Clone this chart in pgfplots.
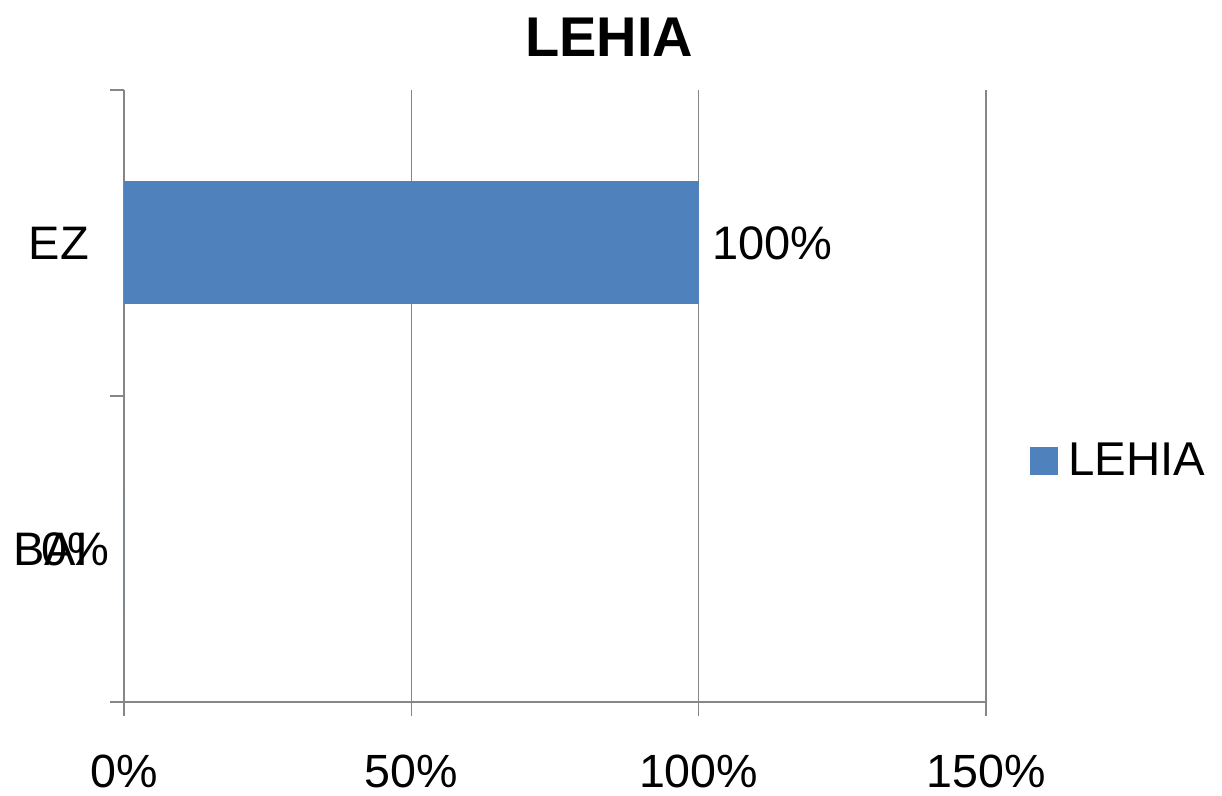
\documentclass[border=0pt]{standalone}
\usepackage{pgfplots}
\pgfplotsset{compat=1.18}
\usepackage{fontspec}
\setmainfont{Liberation Sans}
\definecolor{barblue}{HTML}{4F81BD}
\definecolor{gridgray}{RGB}{134,134,134}
\begin{document}
\begin{tikzpicture}
\begin{axis}[
  name=a,
  width=431pt, height=306pt, scale only axis,
  xmin=0, xmax=150, ymin=-0.5, ymax=1.5,
  xtick={0,50,100,150},
  xticklabels={0\%,50\%,100\%,150\%},
  ytick={0,1}, yticklabels={BAI,EZ},
  minor ytick={-0.5,0.5,1.5},
  axis x line=bottom, axis y line=left,
  axis line style={-,draw=gridgray,line width=0.6pt},
  tick style={draw=gridgray,line width=0.6pt},
  major tick length=7pt, minor tick length=7pt,
  tick align=outside,
  major y tick style={draw=none},
  xmajorgrids=true,
  grid style={draw=gridgray,line width=0.6pt},
  xticklabel style={font=\fontsize{23.3}{27}\selectfont, yshift=-16pt},
  yticklabel style={font=\fontsize{23.5}{28}\selectfont, xshift=-7pt},
  title={\bfseries LEHIA},
  title style={font=\fontsize{28}{33}\selectfont, yshift=7pt, xshift=27pt},
  legend style={draw=none, at={(rel axis cs:1.051,0.394)}, anchor=west,
    font=\fontsize{23.7}{28}\selectfont, inner sep=0pt,
    nodes={inner xsep=5pt}},
  legend image code/.code={\fill[barblue] (0pt,-7pt) rectangle (14pt,7pt);},
  clip=false,
]
\addplot[xbar, bar width=61.5pt, bar shift=0pt, fill=barblue, draw=none,
  nodes near coords={\pgfmathprintnumber[assume math mode=true]{\pgfplotspointmeta}\%},
  point meta=x,
  every node near coord/.style={anchor=west, xshift=6.5pt, inner sep=0pt,
    font=\fontsize{23.5}{28}\selectfont}]
  coordinates {(100,1)};
\addlegendentry{LEHIA}
\addplot[xbar, bar width=61.5pt, bar shift=0pt, fill=barblue, draw=none,
  nodes near coords={\pgfmathprintnumber[assume math mode=true]{\pgfplotspointmeta}\%},
  point meta=x,
  every node near coord/.style={anchor=east, xshift=-7pt, inner sep=0pt,
    font=\fontsize{23.5}{28}\selectfont},
  forget plot]
  coordinates {(0,0)};
\end{axis}
\path ([xshift=-62pt,yshift=-47pt]a.south west) rectangle ([xshift=118pt,yshift=45pt]a.north east);
\end{tikzpicture}
\end{document}
